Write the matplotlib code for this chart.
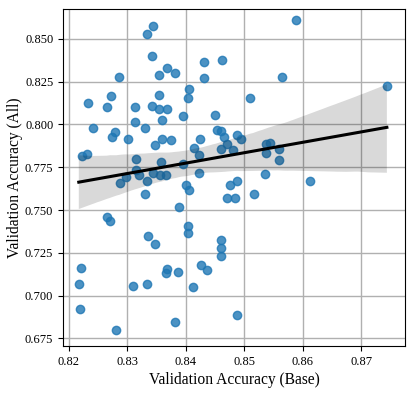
import numpy as np, matplotlib
matplotlib.use('Agg')
import matplotlib.pyplot as plt
import seaborn as sns

plt.rcParams['font.family'] = ['Liberation Serif', 'DejaVu Serif']

# validation accuracy of each run: base vs all
acc_base = [
    0.8344, 0.8333, 0.8343, 0.8368, 0.8381, 0.8354, 0.8285, 0.8272, 0.8354, 0.8233,
    0.8266, 0.8313, 0.8343, 0.8354, 0.8368, 0.8359, 0.8313, 0.8330, 0.8242, 0.8279,
    0.8274, 0.8302, 0.8360, 0.8374, 0.8347, 0.8223, 0.8231, 0.8315, 0.8357, 0.8315,
    0.8298, 0.8320, 0.8344, 0.8356, 0.8366, 0.8334, 0.8288, 0.8330, 0.8388, 0.8266,
    0.8271, 0.8336, 0.8347, 0.8220, 0.8217, 0.8368, 0.8366, 0.8387, 0.8309, 0.8334,
    0.8219, 0.8281, 0.8382, 0.8432, 0.8462, 0.8432, 0.8564, 0.8406, 0.8404, 0.8510,
    0.8396, 0.8450, 0.8425, 0.8454, 0.8461, 0.8465, 0.8488, 0.8494, 0.8414, 0.8471,
    0.8460, 0.8481, 0.8422, 0.8537, 0.8544, 0.8560, 0.8538, 0.8560, 0.8396, 0.8422,
    0.8488, 0.8536, 0.8588, 0.8744, 0.8612, 0.8400, 0.8405, 0.8476, 0.8471, 0.8484,
    0.8516, 0.8403, 0.8403, 0.8460, 0.8460, 0.8460, 0.8426, 0.8436, 0.8412, 0.8488,
]
acc_all = [
    0.8576, 0.8531, 0.8400, 0.8330, 0.8302, 0.8287, 0.8277, 0.8167, 0.8172, 0.8128,
    0.8103, 0.8103, 0.8109, 0.8089, 0.8093, 0.8027, 0.8013, 0.7982, 0.7982, 0.7956,
    0.7925, 0.7917, 0.7913, 0.7908, 0.7878, 0.7817, 0.7826, 0.7800, 0.7782, 0.7733,
    0.7691, 0.7702, 0.7718, 0.7702, 0.7702, 0.7672, 0.7655, 0.7591, 0.7518, 0.7458,
    0.7434, 0.7346, 0.7304, 0.7160, 0.7067, 0.7157, 0.7131, 0.7139, 0.7057, 0.7067,
    0.6922, 0.6799, 0.6848, 0.8367, 0.8374, 0.8273, 0.8278, 0.8207, 0.8152, 0.8156,
    0.8048, 0.8054, 0.7917, 0.7966, 0.7962, 0.7929, 0.7939, 0.7915, 0.7861, 0.7886,
    0.7858, 0.7852, 0.7820, 0.7884, 0.7894, 0.7855, 0.7831, 0.7792, 0.7767, 0.7714,
    0.7672, 0.7708, 0.8613, 0.8224, 0.7669, 0.7645, 0.7616, 0.7645, 0.7571, 0.7569,
    0.7593, 0.7405, 0.7364, 0.7325, 0.7276, 0.7231, 0.7178, 0.7147, 0.7047, 0.6887,
]

fig = plt.figure(figsize=(4.15, 3.96), dpi=100)
ax = fig.add_axes([63/415, 50/396, 342/415, 337/396])

ax.grid(True, color='#b0b0b0', lw=1)
ax.set_axisbelow(True)
sns.regplot(x=np.array(acc_base), y=np.array(acc_all), ax=ax, seed=0,
            line_kws={'color': 'black', 'lw': 2.2})

ax.set_xlim(0.819, 0.8775)
ax.set_ylim(0.6705, 0.8675)
ax.set_xticks([0.82, 0.83, 0.84, 0.85, 0.86, 0.87])
ax.set_yticks([0.675, 0.700, 0.725, 0.750, 0.775, 0.800, 0.825, 0.850])
ax.set_yticklabels(['%.3f' % v for v in ax.get_yticks()])
ax.tick_params(labelsize=9)
for s in ax.spines.values():
    s.set_color('black')
ax.set_xlabel('Validation Accuracy (Base)', fontsize=11.2, labelpad=3)
ax.set_ylabel('Validation Accuracy (All)', fontsize=11.2, labelpad=1)

plt.savefig('out.png', dpi=100)
